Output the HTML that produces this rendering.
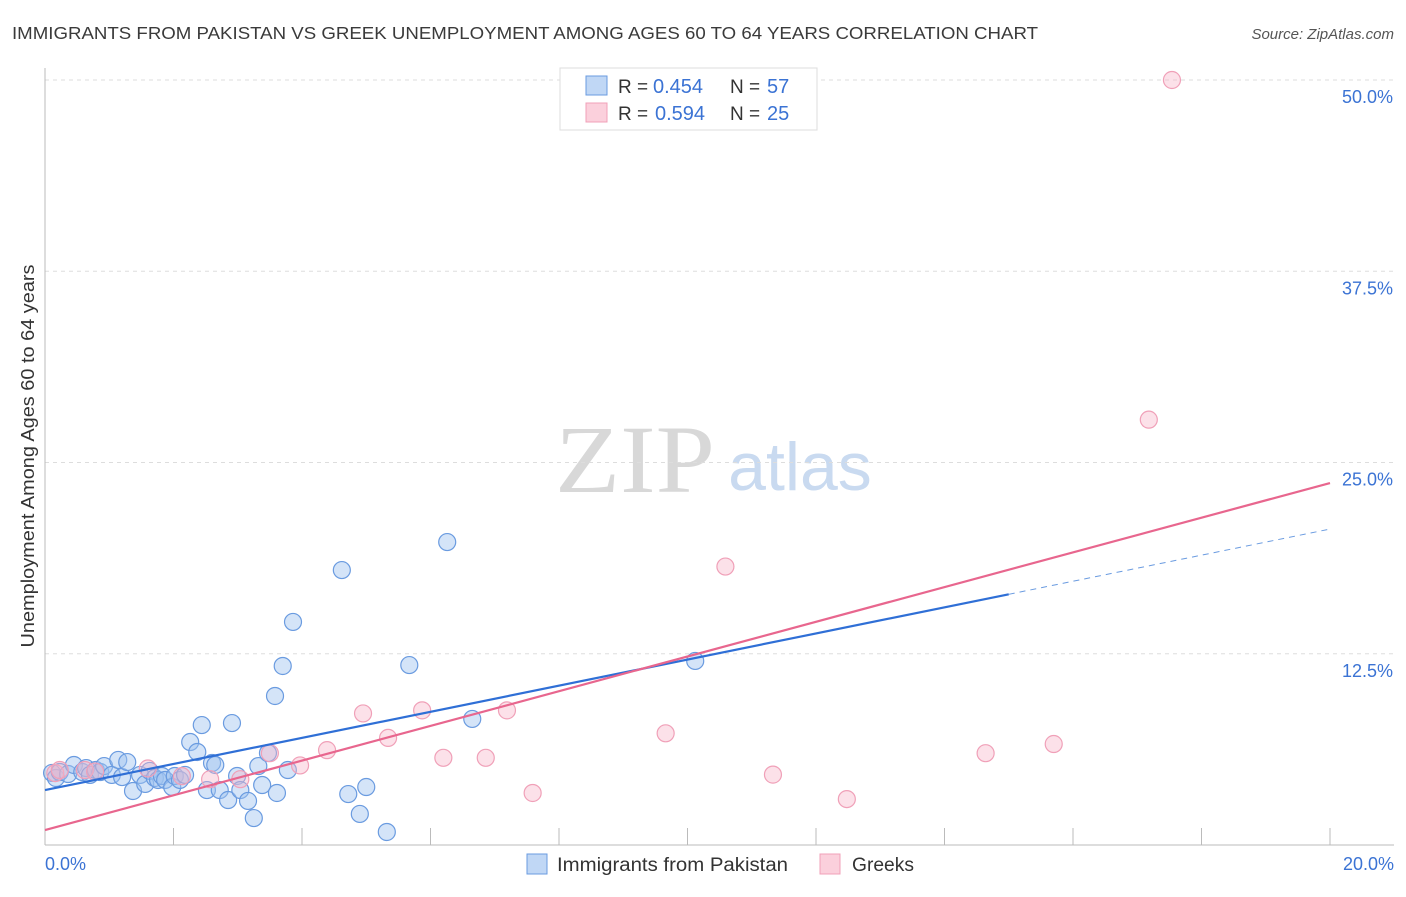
<!DOCTYPE html>
<html><head><meta charset="utf-8"><style>
body{margin:0;background:#fff;font-family:"Liberation Sans",sans-serif}
svg text{font-family:"Liberation Sans",sans-serif}
</style></head><body>
<svg id="c" width="1406" height="892" xmlns="http://www.w3.org/2000/svg">
<text x="12" y="39" font-size="17.5" fill="#3a3a3a" textLength="1026" lengthAdjust="spacingAndGlyphs">IMMIGRANTS FROM PAKISTAN VS GREEK UNEMPLOYMENT AMONG AGES 60 TO 64 YEARS CORRELATION CHART</text>
<text x="1394" y="39" font-size="15" fill="#555" font-style="italic" text-anchor="end">Source: ZipAtlas.com</text>
<text x="555" y="492" font-size="96" fill="#d8d8d8" style="font-family:'Liberation Serif',serif" textLength="160" lengthAdjust="spacingAndGlyphs">ZIP</text>
<text x="800" y="490" font-size="68" fill="#c9daf0" text-anchor="middle">atlas</text>
<g id="grid"></g><g id="axes"></g><g id="pts"></g><g id="lines"></g>
<text x="34" y="456" font-size="18" fill="#333" text-anchor="middle" transform="rotate(-90 34 456)" textLength="383" lengthAdjust="spacingAndGlyphs">Unemployment Among Ages 60 to 64 years</text>
<text x="45" y="870" font-size="18" fill="#3b73d4">0.0%</text>
<text x="1394" y="870" font-size="18" fill="#3b73d4" text-anchor="end">20.0%</text>
<g>
<rect x="560" y="68" width="257" height="62" fill="#fff" stroke="#ddd"/>
<rect x="586" y="76" width="21" height="19" fill="#c0d7f5" stroke="#6a9be0"/>
<text x="618" y="93" font-size="19" fill="#333">R =</text>
<text x="653" y="93" font-size="20" fill="#3b73d4">0.454</text>
<text x="730" y="93" font-size="19" fill="#333">N =</text>
<text x="767" y="93" font-size="20" fill="#3b73d4">57</text>
<rect x="586" y="103" width="21" height="19" fill="#fbd0dc" stroke="#f0a0b8"/>
<text x="618" y="120" font-size="19" fill="#333">R =</text>
<text x="655" y="120" font-size="20" fill="#3b73d4">0.594</text>
<text x="730" y="120" font-size="19" fill="#333">N =</text>
<text x="767" y="120" font-size="20" fill="#3b73d4">25</text>
</g>
<g>
<rect x="527" y="854" width="20" height="20" fill="#c0d7f5" stroke="#6a9be0"/>
<text x="557" y="871" font-size="19" fill="#333" textLength="231" lengthAdjust="spacingAndGlyphs">Immigrants from Pakistan</text>
<rect x="820" y="854" width="20" height="20" fill="#fbd0dc" stroke="#f0a0b8"/>
<text x="852" y="871" font-size="19" fill="#333" textLength="62" lengthAdjust="spacingAndGlyphs">Greeks</text>
</g>
</svg>
<script>
const yTicks=[12.5,25,37.5,50];
const yTickLabels=["12.5%","25.0%","37.5%","50.0%"];
const xTicks=[0,2,4,6,8,10,12,14,16,18,20];
const blueX=[0.11,0.17,0.23,0.36,0.45,0.58,0.64,0.70,0.79,0.86,0.92,1.04,1.14,1.20,1.28,1.37,1.48,1.56,1.63,1.71,1.76,1.82,1.87,1.98,2.02,2.10,2.18,2.26,2.37,2.44,2.52,2.60,2.65,2.72,2.85,2.91,2.99,3.04,3.16,3.25,3.32,3.38,3.47,3.58,3.61,3.70,3.78,3.86,4.62,4.72,4.90,5.00,5.32,5.67,6.26,6.65,10.12];
const blueY=[4.71,4.38,4.77,4.64,5.23,4.77,5.03,4.58,4.90,4.77,5.16,4.58,5.56,4.44,5.42,3.53,4.58,3.99,4.84,4.38,4.25,4.51,4.25,3.79,4.51,4.25,4.58,6.73,6.08,7.84,3.59,5.36,5.23,3.59,2.94,7.97,4.51,3.59,2.88,1.76,5.16,3.92,6.01,9.74,3.40,11.70,4.90,14.58,17.97,3.33,2.03,3.79,0.85,11.76,19.80,8.24,12.03];
const pinkX=[0.16,0.23,0.62,0.78,1.6,2.13,2.57,3.04,3.5,3.97,4.39,4.95,5.34,5.87,6.2,6.86,7.19,7.59,9.66,10.59,11.33,12.48,14.64,15.7,17.18,17.54];
const pinkY=[4.7,4.9,4.9,4.8,5.0,4.5,4.3,4.3,6.0,5.2,6.2,8.6,7.0,8.8,5.7,5.7,8.8,3.4,7.3,18.2,4.6,3.0,6.0,6.6,27.8,50.0];
const blueLine=[3.59,0.853], pinkLine=[0.98,1.134];
const sx=v=>45+v/20*1285, sy=v=>845-v/50*765;
const NS="http://www.w3.org/2000/svg";
function mk(p,tag,a){const e=document.createElementNS(NS,tag);for(const k in a)e.setAttribute(k,a[k]);document.getElementById(p).appendChild(e);return e;}
yTicks.forEach((t,i)=>{
 const l=mk('grid','line',{x1:45,x2:1394,y1:sy(t),y2:sy(t),stroke:'#ddd','stroke-dasharray':'4,4'});
 
 
 const tx=mk('grid','text',{x:1393,y:sy(t)+23,'font-size':18,fill:'#3b73d4','text-anchor':'end'});tx.textContent=yTickLabels[i];
 
 
});
const ax=mk('axes','line',{x1:45,x2:1394,y1:845,y2:845,stroke:'#bbb'});


const ay=mk('axes','line',{x1:45,x2:45,y1:68,y2:845,stroke:'#bbb'});


xTicks.forEach(t=>{const l=mk('axes','line',{x1:sx(t),x2:sx(t),y1:828,y2:845,stroke:'#bbb'});
 
 });
blueX.forEach((x,i)=>{const c=mk('pts','circle',{cx:sx(x),cy:sy(blueY[i]),r:8.5,fill:'rgba(160,196,240,0.45)',stroke:'#6a9be0','stroke-width':1.2});
 
 });
pinkX.forEach((x,i)=>{const c=mk('pts','circle',{cx:sx(x),cy:sy(pinkY[i]),r:8.5,fill:'rgba(248,180,200,0.4)',stroke:'#f0a0b8','stroke-width':1.2});
 
 });
const f=(L,x)=>L[0]+L[1]*x;
const b1=mk('lines','line',{x1:sx(0),y1:sy(f(blueLine,0)),x2:sx(15),y2:sy(f(blueLine,15)),stroke:'#2f6fd6','stroke-width':2.2});


const b2=mk('lines','line',{x1:sx(15),y1:sy(f(blueLine,15)),x2:sx(20),y2:sy(f(blueLine,20)),stroke:'#6a9be0','stroke-width':1,'stroke-dasharray':'6,5'});


const p1=mk('lines','line',{x1:sx(0),y1:sy(f(pinkLine,0)),x2:sx(20),y2:sy(f(pinkLine,20)),stroke:'#e8668e','stroke-width':2.2});


</script>
</body></html>
